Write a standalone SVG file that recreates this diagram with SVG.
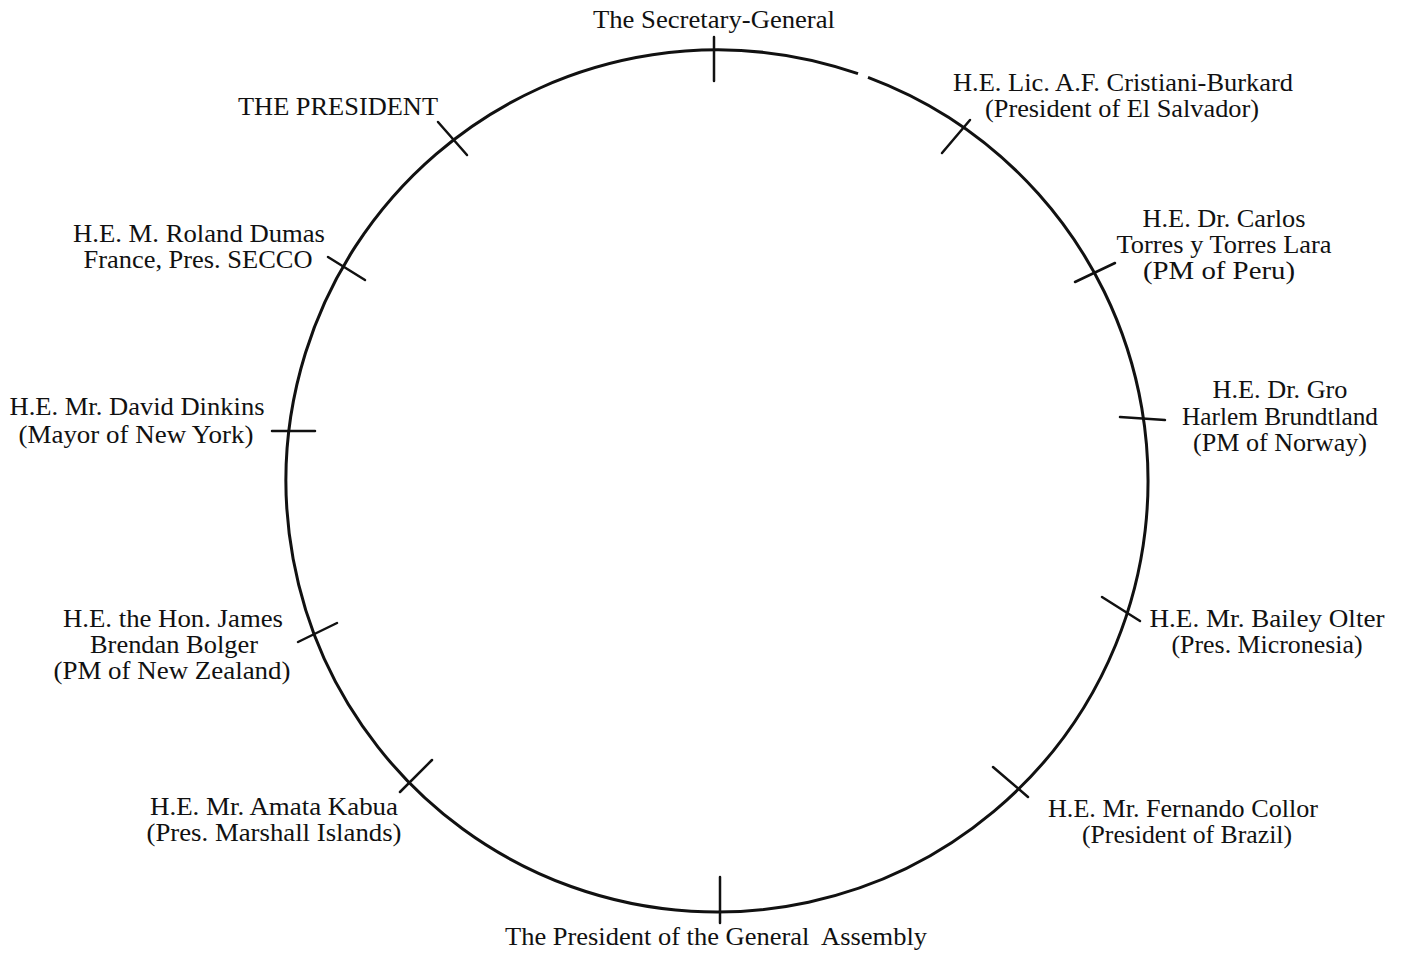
<svg xmlns="http://www.w3.org/2000/svg" width="1403" height="965" viewBox="0 0 1403 965">
<style>
text{font-family:"Liberation Serif","Times New Roman",serif;font-size:25px;fill:#111;text-anchor:middle}
.tick{stroke:#111;stroke-width:2.5;stroke-linecap:round;fill:none}
.ring{stroke:#111;stroke-width:3;fill:none}
</style>
<rect width="1403" height="965" fill="#fff"/>
<g id="connectors">
<path class="ring" d="M868 77.3 A431 431 0 1 1 858 73.7"/>
</g>
<g id="secretary-general">
<line class="tick" x1="714" y1="37" x2="714" y2="81"/>
<text x="714" y="28" textLength="242" lengthAdjust="spacingAndGlyphs">The Secretary-General</text>
</g>
<g id="el-salvador">
<line class="tick" x1="942" y1="153" x2="970" y2="120"/>
<text x="1123" y="91" textLength="340" lengthAdjust="spacingAndGlyphs">H.E. Lic. A.F. Cristiani-Burkard</text>
<text x="1122" y="117" textLength="274" lengthAdjust="spacingAndGlyphs">(President of El Salvador)</text>
</g>
<g id="peru">
<line class="tick" x1="1075" y1="282" x2="1115" y2="263"/>
<text x="1224" y="227" textLength="163" lengthAdjust="spacingAndGlyphs">H.E. Dr. Carlos</text>
<text x="1224" y="253" textLength="215" lengthAdjust="spacingAndGlyphs">Torres y Torres Lara</text>
<text x="1219" y="279" textLength="152" lengthAdjust="spacingAndGlyphs">(PM of Peru)</text>
</g>
<g id="norway">
<line class="tick" x1="1120" y1="417" x2="1165" y2="420"/>
<text x="1280" y="398" textLength="135" lengthAdjust="spacingAndGlyphs">H.E. Dr. Gro</text>
<text x="1280" y="425" textLength="196" lengthAdjust="spacingAndGlyphs">Harlem Brundtland</text>
<text x="1280" y="451" textLength="174" lengthAdjust="spacingAndGlyphs">(PM of Norway)</text>
</g>
<g id="micronesia">
<line class="tick" x1="1102" y1="597" x2="1140" y2="621"/>
<text x="1267" y="627" textLength="235" lengthAdjust="spacingAndGlyphs">H.E. Mr. Bailey Olter</text>
<text x="1267" y="653" textLength="191" lengthAdjust="spacingAndGlyphs">(Pres. Micronesia)</text>
</g>
<g id="brazil">
<line class="tick" x1="993" y1="767" x2="1028" y2="797"/>
<text x="1183" y="817" textLength="270" lengthAdjust="spacingAndGlyphs">H.E. Mr. Fernando Collor</text>
<text x="1187" y="843" textLength="210" lengthAdjust="spacingAndGlyphs">(President of Brazil)</text>
</g>
<g id="president-general-assembly">
<line class="tick" x1="720" y1="877" x2="720" y2="923"/>
<text x="716" y="945" textLength="422" lengthAdjust="spacingAndGlyphs" xml:space="preserve">The President of the General  Assembly</text>
</g>
<g id="marshall-islands">
<line class="tick" x1="400" y1="792" x2="432" y2="760"/>
<text x="274" y="815" textLength="248" lengthAdjust="spacingAndGlyphs">H.E. Mr. Amata Kabua</text>
<text x="274" y="841" textLength="255" lengthAdjust="spacingAndGlyphs">(Pres. Marshall Islands)</text>
</g>
<g id="new-zealand">
<line class="tick" x1="298" y1="642" x2="337" y2="623"/>
<text x="173" y="627" textLength="220" lengthAdjust="spacingAndGlyphs">H.E. the Hon. James</text>
<text x="174" y="653" textLength="168" lengthAdjust="spacingAndGlyphs">Brendan Bolger</text>
<text x="172" y="679" textLength="237" lengthAdjust="spacingAndGlyphs">(PM of New Zealand)</text>
</g>
<g id="new-york">
<line class="tick" x1="272" y1="431" x2="315" y2="431"/>
<text x="137" y="415" textLength="255" lengthAdjust="spacingAndGlyphs">H.E. Mr. David Dinkins</text>
<text x="136" y="443" textLength="235" lengthAdjust="spacingAndGlyphs">(Mayor of New York)</text>
</g>
<g id="france">
<line class="tick" x1="328" y1="257" x2="365" y2="280"/>
<text x="199" y="242" textLength="252" lengthAdjust="spacingAndGlyphs">H.E. M. Roland Dumas</text>
<text x="198" y="268" textLength="229" lengthAdjust="spacingAndGlyphs">France, Pres. SECCO</text>
</g>
<g id="the-president">
<line class="tick" x1="438" y1="122" x2="467" y2="155"/>
<text x="338" y="115" textLength="200" lengthAdjust="spacingAndGlyphs">THE PRESIDENT</text>
</g>
</svg>
